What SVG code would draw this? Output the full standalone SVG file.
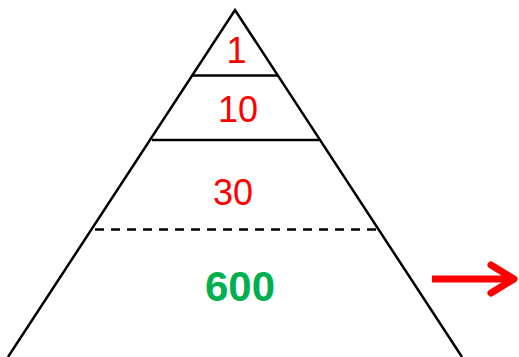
<svg xmlns="http://www.w3.org/2000/svg" width="519" height="357" viewBox="0 0 519 357">
<style>
.edge{stroke:#000;stroke-width:2.5;fill:none}
.lbl{font-family:"Liberation Sans",Arial,sans-serif;fill:#FF0000;text-anchor:middle;font-size:36px}
.arrow{stroke:#FF0000;stroke-width:7;fill:none}
</style>
<rect width="519" height="357" fill="#fff"/>
<g id="pyramid">
<path class="edge" d="M8,357 L235,10 L462,357"/>
</g>
<g id="connectors">
<line class="edge" x1="193" y1="75.5" x2="278" y2="75.5"/>
<line class="edge" x1="152" y1="140" x2="319" y2="140"/>
<line class="edge" x1="95" y1="229.5" x2="382" y2="229.5" stroke-dasharray="9,7"/>
<line class="arrow" x1="432" y1="279" x2="510" y2="279"/>
<path class="arrow" d="M491,265 L514,279 L491,293" stroke-linecap="round" stroke-linejoin="round"/>
</g>
<g id="level1"><text class="lbl" x="236.5" y="63">1</text></g>
<g id="level2"><text class="lbl" x="238" y="122">10</text></g>
<g id="level3"><text class="lbl" x="233" y="205">30</text></g>
<g id="level4"><text x="240" y="301" style="font-family:'Liberation Sans',Arial,sans-serif;font-weight:bold;font-size:42px;fill:#00B050;text-anchor:middle">600</text></g>
</svg>
